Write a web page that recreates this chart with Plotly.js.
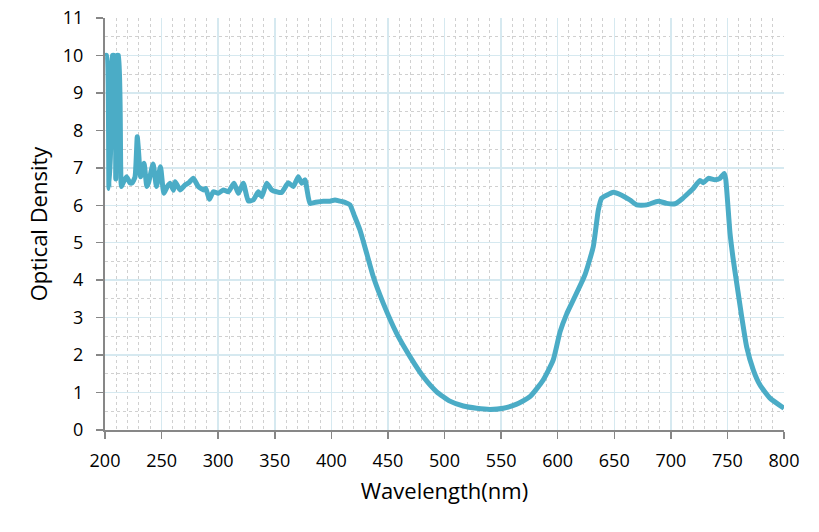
<!DOCTYPE html>
<html>
<head>
<meta charset="utf-8">
<script src="https://cdn.plot.ly/plotly-3.0.1.min.js"></script>
<style>html,body{margin:0;padding:0;background:#fff;}#chart{width:819px;height:532px;}</style>
</head>
<body>
<div id="chart"></div>
<script>
const wavelength = [200,201.5,203.5,205,206.5,208,209.5,210.5,212,214.5,216,219,222,224,226.5,228.5,229.5,231.5,234.5,237,238.5,242.5,245.5,249,252,255,257.5,260.5,262,266.3,270.7,274,278,282.4,286.9,289,292.2,295.7,300.1,304.5,309,314,317.8,322.2,326.6,331,335.5,338.5,342.9,347.3,351.7,356.1,362,366.4,370.8,373.8,376.7,381.1,386,392.9,398.8,403.2,407.6,412,416.5,420,425.3,431.2,437.1,445.9,457.7,469.5,481.3,493.1,504.8,516.6,528.4,540.2,552,563.8,575.5,587.3,596.1,602.1,608,613.8,624.1,631.5,635.9,638.9,644.7,649.2,656.5,663.9,669.8,678.6,688.9,696.3,703.7,709.6,715.4,719.8,725.8,728.7,733.1,739,743.4,747.2,748.5,752.3,755.2,758.2,762.6,767,772.9,778.8,787.6,800];
const opticalDensity = [10.0,10.0,6.45,7.5,10.0,10.0,6.7,10.0,10.0,6.5,6.6,6.76,6.6,6.6,6.75,7.83,7.5,6.76,7.12,6.5,6.6,7.1,6.5,7.03,6.32,6.5,6.59,6.4,6.63,6.41,6.54,6.6,6.72,6.5,6.41,6.45,6.16,6.36,6.32,6.41,6.36,6.59,6.32,6.59,6.12,6.14,6.36,6.23,6.59,6.41,6.36,6.34,6.6,6.5,6.76,6.59,6.68,6.05,6.08,6.11,6.11,6.14,6.11,6.08,6.01,5.75,5.34,4.72,4.09,3.38,2.58,1.96,1.42,1.02,0.77,0.64,0.58,0.55,0.58,0.69,0.89,1.34,1.87,2.62,3.1,3.47,4.14,4.9,5.87,6.19,6.29,6.35,6.27,6.14,6.01,6.01,6.11,6.05,6.04,6.16,6.32,6.45,6.66,6.6,6.72,6.68,6.72,6.85,6.7,5.25,4.54,3.92,3.03,2.22,1.6,1.2,0.85,0.58];
const xTicks = [200,250,300,350,400,450,500,550,600,650,700,750,800];
const yTicks = [0,1,2,3,4,5,6,7,8,9,10,11];

const font = '"Open Sans", "Noto Sans", sans-serif';
Plotly.newPlot('chart', [{
  x: wavelength, y: opticalDensity, type: 'scatter', mode: 'lines',
  line: {color: '#4BACC6', width: 5, shape: 'spline', smoothing: 0.5}, hoverinfo: 'skip'
}], {
  width: 819, height: 532,
  margin: {l: 105, r: 35, t: 18, b: 102},
  paper_bgcolor: '#ffffff', plot_bgcolor: '#ffffff',
  showlegend: false,
  font: {family: font, color: '#000', size: 18},
  xaxis: {
    range: [200, 800], tickvals: xTicks, ticktext: xTicks.map(String),
    showline: true, linecolor: '#878787', linewidth: 2, mirror: false,
    ticks: 'outside', ticklen: 7, tickwidth: 1.5, tickcolor: '#878787',
    ticklabelstandoff: 6,
    showgrid: true, gridcolor: '#d6e9f0', gridwidth: 1.5, zeroline: false,
    minor: {dtick: 10, tick0: 200, showgrid: true, gridcolor: '#d0d0d0', griddash: 'dot', gridwidth: 1, ticks: ''},
    tickfont: {size: 18, family: font, color: '#000'},
    title: {text: 'Wavelength(nm)', font: {size: 22, family: font, color: '#000'}, standoff: 13}
  },
  yaxis: {
    range: [0, 11], tickvals: yTicks, ticktext: yTicks.map(String),
    showline: true, linecolor: '#878787', linewidth: 2,
    ticks: 'outside', ticklen: 7, tickwidth: 1.5, tickcolor: '#878787',
    ticklabelstandoff: 9,
    showgrid: true, gridcolor: '#d6e9f0', gridwidth: 1.5, zeroline: false,
    minor: {dtick: 0.5, tick0: 0, showgrid: true, gridcolor: '#d0d0d0', griddash: 'dot', gridwidth: 1, ticks: ''},
    tickfont: {size: 18, family: font, color: '#000'},
    title: {text: 'Optical Density', font: {size: 22, family: font, color: '#000'}, standoff: 9}
  }
}, {staticPlot: true, displayModeBar: false});
</script>
</body>
</html>
